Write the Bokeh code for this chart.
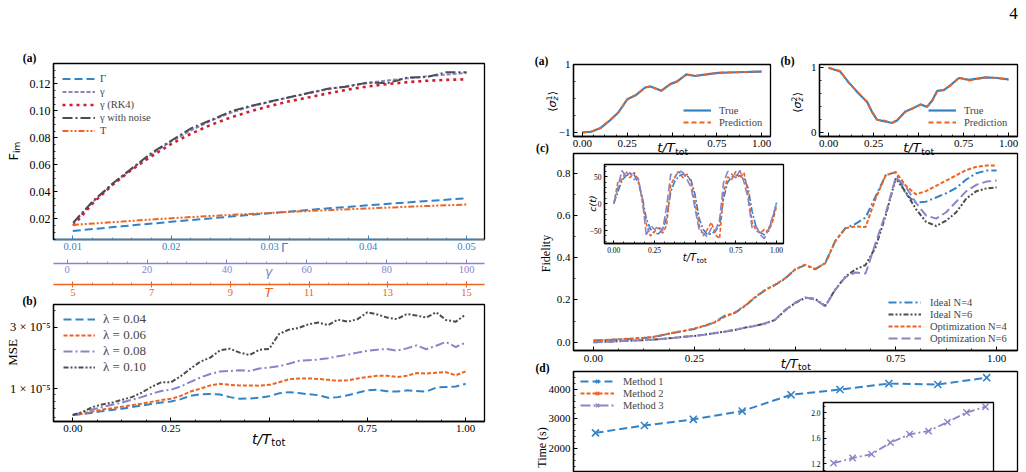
from math import pi

from bokeh.core.properties import value
from bokeh.embed import file_html
from bokeh.models import (CustomJSTickFormatter, FixedTicker, Legend, LegendItem,
                          LinearAxis, NumeralTickFormatter, Range1d, SingleIntervalTicker)
from bokeh.plotting import figure
from bokeh.resources import INLINE

SERIF = "Liberation Serif"
SANS = "DejaVu Sans"
BLUE = "#3383c6"
ORANGE = "#ee6320"
PURPLE = "#8b84c9"
GRAY = "#4d4d4d"
RED = "#cf1f2c"
NAN = float("nan")

# ---------------- left (a): quantum Fisher information vs. parameters ----------------
GAMMA_CAP = [0.010, 0.015, 0.020, 0.025, 0.030, 0.035, 0.040, 0.045, 0.050]
FIM_GAMMA_CAP = [0.0110, 0.0145, 0.0178, 0.0210, 0.0242, 0.0272, 0.0300, 0.0327, 0.0352]

GAMMA = [1.5, 6.4, 11.3, 16.2, 21.2, 26.1, 31.0, 35.9, 40.9, 45.8, 50.7,
         55.6, 60.6, 65.5, 70.4, 75.3, 80.3, 85.2, 90.1, 95.0, 100.0]
FIM_GAMMA = [0.0168, 0.0325, 0.0455, 0.0570, 0.0680, 0.0775, 0.0855, 0.0925, 0.0985, 0.1030, 0.1065,
             0.1100, 0.1130, 0.1160, 0.1185, 0.1205, 0.1225, 0.1240, 0.1255, 0.1268, 0.1280]
FIM_RK4 = [0.0150, 0.0315, 0.0450, 0.0565, 0.0665, 0.0755, 0.0830, 0.0895, 0.0950, 0.0995, 0.1035,
           0.1070, 0.1100, 0.1130, 0.1158, 0.1180, 0.1198, 0.1212, 0.1222, 0.1229, 0.1233]
FIM_NOISE = [0.0172, 0.0330, 0.0460, 0.0575, 0.0690, 0.0780, 0.0870, 0.0930, 0.0995, 0.1035, 0.1068,
             0.1100, 0.1133, 0.1165, 0.1180, 0.1210, 0.1205, 0.1245, 0.1250, 0.1286, 0.1286]

T_VALS = [5, 6, 7, 8, 9, 10, 11, 12, 13, 14, 15]
FIM_T = [0.0155, 0.0175, 0.0195, 0.0213, 0.0229, 0.0244, 0.0258, 0.0271, 0.0283, 0.0295, 0.0306]
T_TICKS = [5, 7, 9, 11, 13, 15]

# ---------------- left (b): MSE for several noise strengths (units of 1e-6) ----------------
T41 = [0.000, 0.025, 0.050, 0.075, 0.100, 0.125, 0.150, 0.175, 0.200, 0.225, 0.250,
       0.275, 0.300, 0.325, 0.350, 0.375, 0.400, 0.425, 0.450, 0.475, 0.500,
       0.525, 0.550, 0.575, 0.600, 0.625, 0.650, 0.675, 0.700, 0.725, 0.750,
       0.775, 0.800, 0.825, 0.850, 0.875, 0.900, 0.925, 0.950, 0.975, 1.000]
MSE_004 = [6.25, 6.35, 6.5, 6.7, 6.85, 7.0, 7.2, 7.4, 7.6, 7.8, 7.95,
           8.3, 8.8, 9.05, 9.1, 9.0, 8.6, 8.35, 8.4, 8.5, 8.75,
           9.2, 9.4, 9.25, 9.05, 8.9, 8.5, 8.6, 8.9, 9.3, 9.7,
           9.8, 9.55, 9.5, 9.7, 9.6, 9.5, 10.2, 10.3, 10.4, 10.9]
MSE_006 = [6.25, 6.4, 6.65, 6.9, 7.05, 7.25, 7.45, 7.65, 7.9, 8.15, 8.35,
           8.8, 9.5, 10.0, 10.6, 10.9, 10.7, 10.6, 10.6, 10.55, 10.7,
           11.2, 11.8, 12.0, 12.0, 11.9, 11.7, 11.5, 11.6, 12.0, 12.3,
           12.6, 12.6, 12.3, 12.6, 13.2, 13.1, 13.3, 13.4, 12.7, 13.6]
MSE_008 = [6.25, 6.5, 6.9, 7.2, 7.5, 7.8, 8.2, 8.6, 9.1, 9.6, 9.8,
           10.4, 11.3, 12.2, 13.0, 13.6, 13.7, 13.9, 13.7, 14.3, 14.6,
           14.9, 15.6, 16.4, 16.6, 16.8, 17.2, 17.8, 18.3, 19.0, 19.6,
           20.0, 20.3, 19.7, 20.5, 21.6, 20.2, 21.5, 23.0, 21.0, 22.7]
MSE_010 = [6.25, 6.6, 7.2, 7.55, 7.8, 8.2, 8.6, 9.3, 10.3, 11.2, 11.2,
           12.5, 14.3, 16.2, 17.4, 19.8, 20.4, 19.0, 18.2, 20.0, 20.3,
           26.5, 28.6, 29.5, 31.5, 32.5, 31.0, 34.2, 33.0, 34.5, 39.0,
           37.5, 35.5, 34.5, 37.8, 36.8, 35.5, 39.0, 34.0, 33.0, 37.5]

# ---------------- right (a), (b): single-qubit expectation values ----------------
S1_T = [0.00, 0.05, 0.10, 0.15, 0.20, 0.25, 0.30, 0.35, 0.38, 0.41, 0.44, 0.49,
        0.53, 0.58, 0.63, 0.69, 0.76, 0.86, 1.00]
S1_TRUE = [-1.00, -0.98, -0.87, -0.66, -0.41, -0.02, 0.11, 0.33, 0.36, 0.30, 0.23, 0.43,
           0.51, 0.72, 0.67, 0.72, 0.76, 0.78, 0.80]
S1_PRED = [-1.00, -0.97, -0.88, -0.65, -0.42, -0.03, 0.12, 0.32, 0.37, 0.29, 0.24, 0.42,
           0.52, 0.71, 0.68, 0.71, 0.77, 0.78, 0.81]

S2_T = [0.000, 0.065, 0.110, 0.167, 0.214, 0.242, 0.270, 0.307, 0.353, 0.381, 0.427, 0.474,
        0.511, 0.548, 0.576, 0.604, 0.641, 0.678, 0.725, 0.780, 0.873, 0.939, 1.000]
S2_TRUE = [1.00, 0.94, 0.78, 0.60, 0.47, 0.31, 0.19, 0.17, 0.14, 0.18, 0.32, 0.375,
           0.43, 0.39, 0.49, 0.64, 0.65, 0.73, 0.84, 0.81, 0.85, 0.84, 0.82]
S2_PRED = [1.00, 0.95, 0.77, 0.61, 0.46, 0.32, 0.19, 0.18, 0.14, 0.19, 0.31, 0.38,
           0.42, 0.40, 0.48, 0.63, 0.66, 0.72, 0.85, 0.80, 0.85, 0.84, 0.81]

# ---------------- right (c): fidelity during the protocol ----------------
FID_IDEAL4 = [0.008, 0.010, 0.012, 0.014, 0.017, 0.020, 0.025, 0.035, 0.045, 0.053, 0.063,
              0.076, 0.095, 0.125, 0.138, 0.170, 0.210, 0.245, 0.270, 0.300, 0.345,
              0.365, 0.345, 0.375, 0.480, 0.540, 0.560, 0.590, 0.690, 0.790, 0.805,
              0.700, 0.660, 0.665, 0.685, 0.705, 0.730, 0.770, 0.800, 0.812, 0.812]
FID_OPT4 = [0.008, 0.010, 0.013, 0.015, 0.018, 0.021, 0.026, 0.036, 0.046, 0.055, 0.065,
            0.078, 0.093, 0.120, 0.140, 0.172, 0.212, 0.247, 0.272, 0.302, 0.343,
            0.367, 0.347, 0.373, 0.478, 0.540, 0.548, 0.545, 0.680, 0.790, 0.805,
            0.740, 0.700, 0.715, 0.740, 0.765, 0.790, 0.815, 0.830, 0.836, 0.836]
FID_IDEAL6 = [0.000, 0.002, 0.004, 0.006, 0.008, 0.010, 0.013, 0.017, 0.021, 0.026, 0.030,
              0.036, 0.043, 0.050, 0.058, 0.069, 0.078, 0.088, 0.105, 0.150, 0.185,
              0.210, 0.205, 0.172, 0.250, 0.310, 0.345, 0.365, 0.450, 0.600, 0.775,
              0.710, 0.630, 0.570, 0.550, 0.575, 0.615, 0.680, 0.715, 0.728, 0.733]
FID_OPT6 = [0.000, 0.002, 0.004, 0.006, 0.008, 0.010, 0.013, 0.017, 0.021, 0.026, 0.030,
            0.036, 0.043, 0.050, 0.058, 0.068, 0.077, 0.089, 0.106, 0.152, 0.187,
            0.212, 0.203, 0.170, 0.248, 0.308, 0.330, 0.325, 0.470, 0.610, 0.780,
            0.735, 0.660, 0.600, 0.585, 0.615, 0.665, 0.715, 0.745, 0.760, 0.765]

# control field c(t) for the three schemes (inset)
CTRL_IDEAL = [0, 22, 43, 52, 55, 54, 40, 12, -28, -47, -55,
              -56, -48, -26, 22, 42, 51, 55, 52, 44, 16,
              -28, -48, -58, -56, -51, -40, 10, 40, 50, 53,
              52, 46, 30, -14, -44, -54, -58, -49, -30, 2]
CTRL_OPT4 = [0, 40, 45, 60, 48, 58, 45, 5, -38, -60, -52,
             -45, -55, -40, 35, 50, 60, 48, 55, 40, 0,
             -40, -60, -48, -35, -58, -65, 20, 50, 45, 60,
             48, 58, 20, -35, -50, -55, -48, -52, -35, -5]
CTRL_OPT6 = [0, 30, 62, 50, 58, 45, 48, 10, -60, -40, -48,
             -42, -50, -5, 55, 48, 62, 58, 45, 30, -10,
             -50, -55, -62, -45, -50, -30, 40, 60, 55, 48,
             62, 40, 10, -45, -42, -58, -65, -48, -25, 0]

# ---------------- right (d): run time per method ----------------
N_VALUES = [2, 3, 4, 5, 6, 7, 8, 9, 10]
TIME_METHOD1 = [2530, 2780, 2990, 3270, 3820, 4000, 4200, 4170, 4400]
# Method 2 lies outside the plotted window; no values are drawn for it
TIME_METHOD2 = [NAN, NAN, NAN, NAN, NAN, NAN, NAN, NAN, NAN]
TIME_METHOD3 = [1.21, 1.29, 1.35, 1.53, 1.66, 1.71, 1.85, 2.00, 2.09]

X_TICKS = [0.0, 0.25, 0.5, 0.75, 1.0]
X_MINOR = [i / 16 for i in range(-1, 18)]


def fmt(dec, hide=None):
    return CustomJSTickFormatter(args=dict(dec=dec, hide=hide), code="""
        if (hide !== null && Math.abs(tick - hide) < 1e-9) { return ""; }
        const s = Math.abs(tick).toFixed(dec);
        return (tick < -1e-12 ? "\u2212" : "") + s;
    """)


def panel(left, top, width, height, borders, x_range, y_range, y_type="linear",
          x_axis=True, fill=None):
    bl, br, bt, bb = borders
    p = figure(width=width, height=height, x_range=x_range, y_range=y_range,
               x_axis_type="linear" if x_axis else None, y_axis_type=y_type,
               output_backend="svg", toolbar_location=None,
               min_border_left=bl, min_border_right=br, min_border_top=bt, min_border_bottom=bb,
               styles={"position": "absolute", "left": f"{left}px", "top": f"{top}px"})
    p.border_fill_color = None
    p.background_fill_color = fill
    p.outline_line_color = "black"
    p.outline_line_width = 1.3
    p.xgrid.visible = False
    p.ygrid.visible = False
    return p


def style_axis(ax, size="11px", color="black", tick_in=4, minor_in=2, tick_out=0, standoff=3):
    ax.axis_line_color = color
    ax.axis_line_width = 1.3
    ax.major_tick_line_color = color
    ax.minor_tick_line_color = color
    ax.major_tick_line_width = 1
    ax.minor_tick_line_width = 0.8
    ax.major_tick_in = tick_in
    ax.major_tick_out = tick_out
    ax.minor_tick_in = minor_in
    ax.minor_tick_out = 0
    ax.major_label_text_font = SERIF
    ax.major_label_text_font_size = size
    ax.major_label_text_color = color
    ax.major_label_standoff = standoff


def add_legend(p, items, loc, size="10.5px", row=13, glyph_width=34, standoff=6):
    # loc = (offset from frame left, offset of legend bottom above frame bottom), in px
    leg = Legend(items=[LegendItem(label=lab, renderers=rs) for lab, rs in items], location=loc)
    leg.border_line_color = None
    leg.background_fill_alpha = 0
    leg.label_text_font = SERIF
    leg.label_text_font_size = size
    leg.label_height = int(round(row))
    leg.glyph_height = int(round(row))
    leg.spacing = 0
    leg.padding = 0
    leg.margin = 0
    leg.glyph_width = glyph_width
    leg.label_standoff = standoff
    p.add_layout(leg)


roots = []

# ===== left (a) =====
pa = panel(0, 45, 494, 255, (53, 10, 18, 61), Range1d(0.00804, 0.05183), Range1d(0.0047, 0.135),
           x_axis=False)
pa.extra_x_ranges = {"gamma": Range1d(-3.43, 104.5), "temp": Range1d(4.51, 15.457)}
ax_cap = LinearAxis(ticker=SingleIntervalTicker(interval=0.01, num_minor_ticks=5),
                    formatter=NumeralTickFormatter(format="0.00"))
style_axis(ax_cap, size="10.5px", color=BLUE, standoff=3)
ax_cap.axis_label = " "
ax_cap.axis_label_text_font_size = "1px"
ax_cap.axis_label_standoff = 7
pa.add_layout(ax_cap, "below")
ax_gam = LinearAxis(x_range_name="gamma", ticker=SingleIntervalTicker(interval=20, num_minor_ticks=4),
                    formatter=NumeralTickFormatter(format="0"))
style_axis(ax_gam, size="10.5px", color=PURPLE, standoff=2)
ax_gam.axis_label = " "
ax_gam.axis_label_text_font_size = "1px"
ax_gam.axis_label_standoff = 5
pa.add_layout(ax_gam, "below")
ax_tem = LinearAxis(x_range_name="temp",
                    ticker=FixedTicker(ticks=T_TICKS, minor_ticks=[4.5 + 0.5 * i for i in range(23)]),
                    formatter=NumeralTickFormatter(format="0"))
style_axis(ax_tem, size="10.5px", color=ORANGE, tick_in=3, tick_out=3, minor_in=2, standoff=1)
pa.add_layout(ax_tem, "below")
pa.yaxis.ticker = SingleIntervalTicker(interval=0.02, num_minor_ticks=4)
pa.yaxis.formatter = NumeralTickFormatter(format="0.00")
style_axis(pa.yaxis[0], size="12px")

r_cap = pa.line(GAMMA_CAP, FIM_GAMMA_CAP, color=BLUE, line_width=2, line_dash="8 4")
r_gam = pa.line(GAMMA, FIM_GAMMA, x_range_name="gamma", color=PURPLE, line_width=2, line_dash="4 2")
r_rk4 = pa.line(GAMMA, FIM_RK4, x_range_name="gamma", color=RED, line_width=2.6, line_dash="3 4")
r_noi = pa.line(GAMMA, FIM_NOISE, x_range_name="gamma", color=GRAY, line_width=2, line_dash="10 3 2 3")
r_tem = pa.line(T_VALS, FIM_T, x_range_name="temp", color=ORANGE, line_width=2, line_dash="6 2 2 2 2 2")
add_legend(pa, [("Γ", [r_cap]), ("γ", [r_gam]), ("γ (RK4)", [r_rk4]),
                ("γ with noise", [r_noi]), ("T", [r_tem])],
           (9, 102), size="10.5px", row=13, glyph_width=33, standoff=5)
roots.append(pa)

# ===== left (b) =====
pb = panel(0, 300, 494, 150, (53, 10, 4, 29), Range1d(-0.049, 1.048), Range1d(5.57e-6, 4.48e-5),
           y_type="log")
pb.xaxis.ticker = FixedTicker(ticks=X_TICKS, minor_ticks=X_MINOR)
pb.xaxis.formatter = fmt(2, 0.5)
style_axis(pb.xaxis[0])
pb.yaxis.ticker = FixedTicker(ticks=[1e-5, 3e-5], minor_ticks=[6e-6, 7e-6, 8e-6, 9e-6, 2e-5, 4e-5])
pb.yaxis.formatter = CustomJSTickFormatter(code="return Math.round(tick / 1e-5) + ' \u00d7 10\u207b\u2075';")
style_axis(pb.yaxis[0], size="12.5px")
rb1 = pb.line(T41, [v * 1e-6 for v in MSE_004], color=BLUE, line_width=2, line_dash="8 4")
rb2 = pb.line(T41, [v * 1e-6 for v in MSE_006], color=ORANGE, line_width=2, line_dash="4 2")
rb3 = pb.line(T41, [v * 1e-6 for v in MSE_008], color=PURPLE, line_width=2, line_dash="9 3 2 3")
rb4 = pb.line(T41, [v * 1e-6 for v in MSE_010], color=GRAY, line_width=2, line_dash="5 2 2 2 2 2")
add_legend(pb, [("λ = 0.04", [rb1]), ("λ = 0.06", [rb2]), ("λ = 0.08", [rb3]), ("λ = 0.10", [rb4])],
           (10, 46), size="13px", row=16, glyph_width=32, standoff=8)
roots.append(pb)


def qubit_panel(left, bl, br, width, t, true, pred, y_range, yticks, yminor, leg_x):
    p = panel(left, 50, width, 105, (bl, br, 14, 19), Range1d(-0.05, 1.05), y_range)
    p.xaxis.ticker = FixedTicker(ticks=X_TICKS, minor_ticks=X_MINOR)
    p.xaxis.formatter = fmt(2, 0.5)
    p.yaxis.ticker = FixedTicker(ticks=yticks, minor_ticks=yminor)
    p.yaxis.formatter = fmt(0)
    style_axis(p.xaxis[0])
    style_axis(p.yaxis[0])
    r1 = p.line(t, true, color=BLUE, line_width=2.2)
    r2 = p.line(t, pred, color=ORANGE, line_width=1.8, line_dash="5 3")
    add_legend(p, [("True", [r1]), ("Prediction", [r2])], (leg_x, 8),
               size="10.5px", row=12, glyph_width=28, standoff=8)
    return p


roots.append(qubit_panel(520, 53, 10, 260, S1_T, S1_TRUE, S1_PRED, Range1d(-1.12, 1.01),
                         [-1, 1], [-0.5, 0, 0.5], 110))
roots.append(qubit_panel(770, 49, 9, 256, S2_T, S2_TRUE, S2_PRED, Range1d(-0.07, 1.05),
                         [0, 1], [0.2, 0.4, 0.6, 0.8], 109))

# ===== right (c) =====
pc = panel(520, 140, 506, 230, (53, 9, 13, 20), Range1d(-0.0496, 1.052), Range1d(-0.039, 0.893))
pc.xaxis.ticker = FixedTicker(ticks=X_TICKS, minor_ticks=X_MINOR)
pc.xaxis.formatter = fmt(2, 0.5)
pc.yaxis.ticker = SingleIntervalTicker(interval=0.2, num_minor_ticks=2)
pc.yaxis.formatter = NumeralTickFormatter(format="0.0")
style_axis(pc.xaxis[0], standoff=4)
style_axis(pc.yaxis[0])
rc1 = pc.line(T41, FID_IDEAL4, color=BLUE, line_width=2, line_dash="8 3 2 3")
rc2 = pc.line(T41, FID_IDEAL6, color=GRAY, line_width=2, line_dash="5 2 2 2 2 2")
rc3 = pc.line(T41, FID_OPT4, color=ORANGE, line_width=2, line_dash="4 2")
rc4 = pc.line(T41, FID_OPT6, color=PURPLE, line_width=2, line_dash="9 4")
add_legend(pc, [("Ideal N=4", [rc1]), ("Ideal N=6", [rc2]), ("Optimization N=4", [rc3]),
                ("Optimization N=6", [rc4])], (315, 6), size="10.5px", row=12,
           glyph_width=33, standoff=9)
roots.append(pc)

# inset: control field
pi_c = panel(570, 158, 223, 110, (34, 10, 6, 25), Range1d(-0.057, 1.043), Range1d(-74.2, 72.9),
             fill="white")
pi_c.xaxis.ticker = FixedTicker(ticks=X_TICKS, minor_ticks=X_MINOR)
pi_c.xaxis.formatter = fmt(2, 0.5)
pi_c.yaxis.ticker = SingleIntervalTicker(interval=50, num_minor_ticks=5)
pi_c.yaxis.formatter = fmt(0)
style_axis(pi_c.xaxis[0], size="7.5px", tick_in=3, minor_in=2, standoff=3)
style_axis(pi_c.yaxis[0], size="7.5px", tick_in=3, minor_in=2, standoff=3)
pi_c.line(T41, CTRL_IDEAL, color=BLUE, line_width=1.6, line_dash="7 2 2 2")
pi_c.line(T41, CTRL_OPT4, color=ORANGE, line_width=1.6, line_dash="4 2")
pi_c.line(T41, CTRL_OPT6, color=PURPLE, line_width=1.6, line_dash="8 3")
roots.append(pi_c)

# ===== right (d) =====
pd = panel(520, 360, 506, 112, (53, 9, 11, 0), Range1d(1.55, 10.63), Range1d(1186, 4610), x_axis=False)
pd.yaxis.ticker = SingleIntervalTicker(interval=1000, num_minor_ticks=5)
pd.yaxis.formatter = NumeralTickFormatter(format="0")
style_axis(pd.yaxis[0])
d1l = pd.line(N_VALUES, TIME_METHOD1, color=BLUE, line_width=2, line_dash="8 4")
d1s = pd.scatter(N_VALUES, TIME_METHOD1, marker="x", size=10, line_width=1.6, color=BLUE)
d2l = pd.line(N_VALUES, TIME_METHOD2, color=ORANGE, line_width=2, line_dash="4 2")
d2s = pd.scatter(N_VALUES, TIME_METHOD2, marker="x", size=10, line_width=1.6, color=ORANGE)
d3l = pd.line(N_VALUES, TIME_METHOD3, color=PURPLE, line_width=2, line_dash="10 3 2 3")
d3s = pd.scatter(N_VALUES, TIME_METHOD3, marker="x", size=10, line_width=1.6, color=PURPLE)
add_legend(pd, [("Method 1", [d1l, d1s]), ("Method 2", [d2l, d2s]), ("Method 3", [d3l, d3s])],
           (7, 61), size="10.5px", row=12, glyph_width=34, standoff=9)
roots.append(pd)

# inset: method 3 zoomed
pe = panel(800, 396, 203, 76, (23, 10, 6, 0), Range1d(1.47, 10.42), Range1d(1.064, 2.156),
           x_axis=False, fill="white")
pe.yaxis.ticker = SingleIntervalTicker(interval=0.4, num_minor_ticks=4)
pe.yaxis.formatter = NumeralTickFormatter(format="0.0")
style_axis(pe.yaxis[0], size="7.5px", tick_in=3, minor_in=2, standoff=3)
pe.line(N_VALUES, TIME_METHOD3, color=PURPLE, line_width=1.8, line_dash="8 3 2 3")
pe.scatter(N_VALUES, TIME_METHOD3, marker="x", size=9, line_width=1.4, color=PURPLE)
roots.append(pe)

# ===== annotation layer: panel tags, axis names and math labels =====
ov = figure(width=1026, height=472, x_range=Range1d(0, 1026), y_range=Range1d(472, 0),
            x_axis_type=None, y_axis_type=None, output_backend="svg", toolbar_location=None,
            min_border=0, styles={"position": "absolute", "left": "0px", "top": "0px", "z-index": "10"})
ov.outline_line_color = None
ov.background_fill_color = None
ov.border_fill_color = None


def txt(x, y, s, size, font=SERIF, style="normal", color="black", align="center",
        baseline="middle", angle=0.0):
    ov.text(x=[x], y=[y], text=[s], text_font=value(font), text_font_size=f"{size}px",
            text_font_style=style, text_color=color, text_align=align, text_baseline=baseline,
            angle=angle)


def t_over_ttot(cx, cy, size):
    sub = 0.72 * size
    w1, w2 = 1.34 * size, 1.396 * sub
    x0 = cx - (w1 + w2) / 2
    txt(x0, cy, "t/T", size, SANS, "italic", align="left")
    txt(x0 + w1 + 0.5, cy + 0.28 * size, "tot", sub, SANS, align="left")


def sigma_label(cx, cy, idx, size=11.0):
    sc = 0.7 * size
    total = 1.41 * size + 0.45 * size
    y0 = cy + total / 2
    txt(cx, y0, "⟨", size, SANS, align="left", angle=pi / 2)
    txt(cx, y0 - 0.39 * size, "σ", size, SANS, "italic", align="left", angle=pi / 2)
    ys = y0 - 1.02 * size
    txt(cx - 0.33 * size, ys, idx, sc, SANS, align="left", angle=pi / 2)
    txt(cx + 0.30 * size, ys, "z", sc, SANS, "italic", align="left", angle=pi / 2)
    txt(cx, ys - 0.47 * size, "⟩", size, SANS, align="left", angle=pi / 2)


for tag, x, y in [("(a)", 29, 57), ("(b)", 29, 300), ("(a)", 541, 60), ("(b)", 787, 60),
                  ("(c)", 542, 147), ("(d)", 542, 367)]:
    txt(x, y, tag, 11.5, SERIF, "bold")
txt(1013, 13, "4", 17, SERIF)

txt(284, 247, "Γ", 12.5, SANS, color=BLUE)
txt(268, 271, "γ", 13, SANS, "italic", PURPLE)
txt(268, 292, "T", 13, SANS, "italic", ORANGE)

# F_im (rotated)
txt(13, 160, "F", 13, SANS, align="left", angle=pi / 2)
txt(16.5, 152.5, "im", 9, SANS, align="left", angle=pi / 2)
txt(12, 352, "MSE", 13, SERIF, angle=pi / 2)
txt(545, 253, "Fidelity", 12, SERIF, angle=pi / 2)
txt(541, 447, "Time (s)", 12, SERIF, angle=pi / 2)
txt(592, 203, "c(t)", 9.5, SANS, "italic", angle=pi / 2)
sigma_label(552, 101, "1")
sigma_label(797, 102, "2")

t_over_ttot(268, 438, 14)
t_over_ttot(672, 147, 13)
t_over_ttot(918, 147, 13)
t_over_ttot(795, 363, 12.5)
t_over_ttot(694, 257, 10)
roots.append(ov)

open("out.html", "w").write(file_html(roots, INLINE))
